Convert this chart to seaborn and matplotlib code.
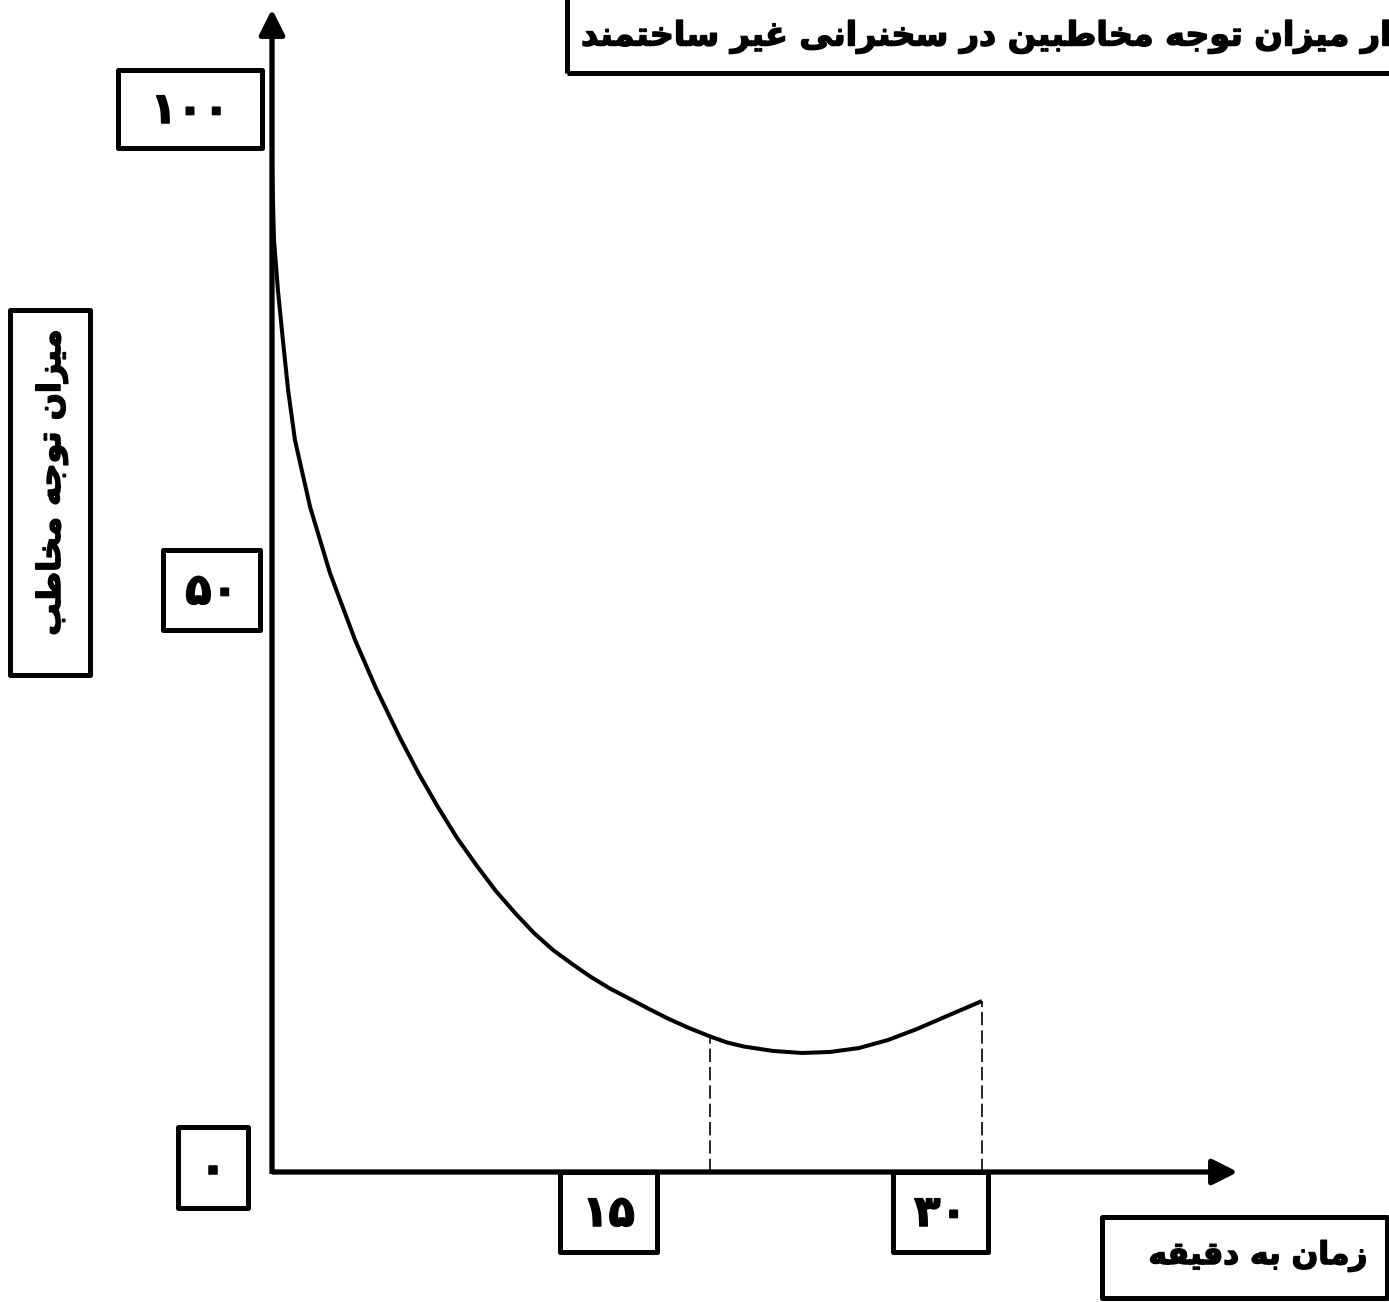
import matplotlib
matplotlib.use("Agg")
import matplotlib.pyplot as plt
import matplotlib.patheffects as pe
from matplotlib.patches import Rectangle
import seaborn as sns

# ---------------- data ----------------
minutes = [0, 0.085, 0.25, 0.46, 0.68, 0.97, 1.61, 2.45, 3.51, 4.39, 5.41,
           6.21, 7.01, 7.82, 8.66, 9.46, 10.27, 11.07, 11.87, 12.68, 13.48,
           14.28, 15.13, 15.93, 16.73, 17.62, 18.51, 19.23, 19.94, 21.17,
           22.39, 23.58, 24.80, 26.03, 27.25, 28.52, 30.0]
attention = [100, 92.55, 87.59, 82.62, 77.66, 72.69, 66.04, 59.48, 52.83,
             48.06, 43.10, 39.52, 36.25, 33.17, 30.39, 27.90, 25.72, 23.73,
             22.05, 20.66, 19.36, 18.22, 17.18, 16.19, 15.24, 14.30, 13.46,
             12.86, 12.46, 12.02, 11.82, 11.92, 12.31, 13.11, 14.20, 15.49,
             16.98]
dash_x = [18.51, 30.0]
dash_top = [13.46, 16.98]
y_tick_labels = ["۱۰۰", "۵۰", "۰"]
x_tick_labels = ["۱۵", "۳۰"]
title_text = "نمودار میزان توجه مخاطبین در سخنرانی غیر ساختمند"
ylabel_text = "میزان توجه مخاطب"
xlabel_text = "زمان به دقیقه"

# ------------- simple Arabic/Persian shaping -------------
FORMS = {
    'ا': ('\uFE8D', '\uFE8E', None, None),
    'ب': ('\uFE8F', '\uFE90', '\uFE91', '\uFE92'),
    'ت': ('\uFE95', '\uFE96', '\uFE97', '\uFE98'),
    'ج': ('\uFE9D', '\uFE9E', '\uFE9F', '\uFEA0'),
    'خ': ('\uFEA5', '\uFEA6', '\uFEA7', '\uFEA8'),
    'د': ('\uFEA9', '\uFEAA', None, None),
    'ر': ('\uFEAD', '\uFEAE', None, None),
    'ز': ('\uFEAF', '\uFEB0', None, None),
    'س': ('\uFEB1', '\uFEB2', '\uFEB3', '\uFEB4'),
    'ط': ('\uFEC1', '\uFEC2', '\uFEC3', '\uFEC4'),
    'غ': ('\uFECD', '\uFECE', '\uFECF', '\uFED0'),
    'ق': ('\uFED5', '\uFED6', '\uFED7', '\uFED8'),
    'م': ('\uFEE1', '\uFEE2', '\uFEE3', '\uFEE4'),
    'ن': ('\uFEE5', '\uFEE6', '\uFEE7', '\uFEE8'),
    'ه': ('\uFEE9', '\uFEEA', '\uFEEB', '\uFEEC'),
    'و': ('\uFEED', '\uFEEE', None, None),
    'ی': ('\uFEEF', '\uFEF0', '\uFEF3', '\uFEF4'),
}


def shape(text):
    out = []
    n = len(text)
    for i, ch in enumerate(text):
        f = FORMS.get(ch)
        if f is None:
            out.append(ch)
            continue
        prev = text[i - 1] if i > 0 else None
        nxt = text[i + 1] if i < n - 1 else None
        jp = prev in FORMS and FORMS[prev][2] is not None
        jn = f[2] is not None and nxt in FORMS
        if jp and jn:
            g = f[3]
        elif jp:
            g = f[1]
        elif jn:
            g = f[2]
        else:
            g = f[0]
        out.append(g)
    return ''.join(reversed(out))


# ---------------- figure ----------------
sns.set_theme(style="white")
plt.rcParams['font.family'] = ['DejaVu Sans']
plt.rcParams['font.weight'] = 'bold'

W, H = 1389, 1302
fig = plt.figure(figsize=(W / 100, H / 100), dpi=100)
ax = fig.add_axes([0, 0, 1, 1])
ax.set_axis_off()

# pixel -> data helpers (layout only)
X0, Y0, KX, KY = 272.0, 1172.0, (982 - 272) / 30.0, (1172 - 165) / 100.0
def X(px):
    return (px - X0) / KX
def Y(py):
    return (Y0 - py) / KY

ax.set_xlim(X(0), X(W))
ax.set_ylim(Y(H), Y(0))

# curve
sns.lineplot(x=minutes, y=attention, color="black", lw=2.9, ax=ax,
             sort=False, estimator=None)
for ln in ax.get_lines():
    ln.set_solid_joinstyle("round")
    ln.set_solid_capstyle("butt")

# dashed guides
ax.vlines(dash_x, 0, dash_top, colors="black", lw=1.2, linestyles=(0, (8, 3)))

# axes arrows
arrow = dict(arrowstyle="-|>,head_length=0.7,head_width=0.35", lw=3.8,
             color="black", mutation_scale=22, shrinkA=0, shrinkB=0,
             capstyle="butt")
ax.annotate("", xy=(0, Y(9)), xytext=(0, Y(1174)), arrowprops=arrow)
ax.annotate("", xy=(X(1238), 0), xytext=(X(272), 0), arrowprops=arrow)

BOX_LW = 3.6
BOLD = [pe.withStroke(linewidth=1.1, foreground="black")]

def box(x0, y0, x1, y1, label, fs, rot=0, tx=None, ty=None, ha="center"):
    ax.add_patch(Rectangle((X(x0), Y(y1)), X(x1) - X(x0), Y(y0) - Y(y1),
                           fill=False, lw=BOX_LW, ec="black", joinstyle="round"))
    if tx is None:
        tx = (x0 + x1) / 2
    if ty is None:
        ty = (y0 + y1) / 2
    ax.text(X(tx), Y(ty), label, fontsize=fs, fontweight="bold", ha=ha,
            va="center", rotation=rot, color="black", path_effects=BOLD)

# y value boxes
box(118, 70, 262, 148, y_tick_labels[0], 31, ty=111)
box(163, 550, 260, 630, y_tick_labels[1], 31, ty=592)
box(178, 1127, 248, 1208, y_tick_labels[2], 31, ty=1170)
# x value boxes
box(560, 1172, 657, 1252, x_tick_labels[0], 31, ty=1214)
box(893, 1172, 988, 1252, x_tick_labels[1], 31, ty=1214)

# axis label boxes
box(10, 310, 90, 675, shape(ylabel_text), 23, rot=90, tx=52, ty=482)
box(1102, 1217, 1387, 1298, shape(xlabel_text), 22.5, tx=1258, ty=1256)

# title box (runs off the top/right of the picture, as in the reference)
ax.add_patch(Rectangle((X(567), Y(73)), X(1500) - X(567), Y(-20) - Y(73),
                       fill=False, lw=BOX_LW, ec="black"))
ax.text(X(581), Y(37), shape(title_text), fontsize=24, fontweight="bold",
        ha="left", va="center", color="black", path_effects=BOLD)

fig.savefig("out.png", dpi=100)
